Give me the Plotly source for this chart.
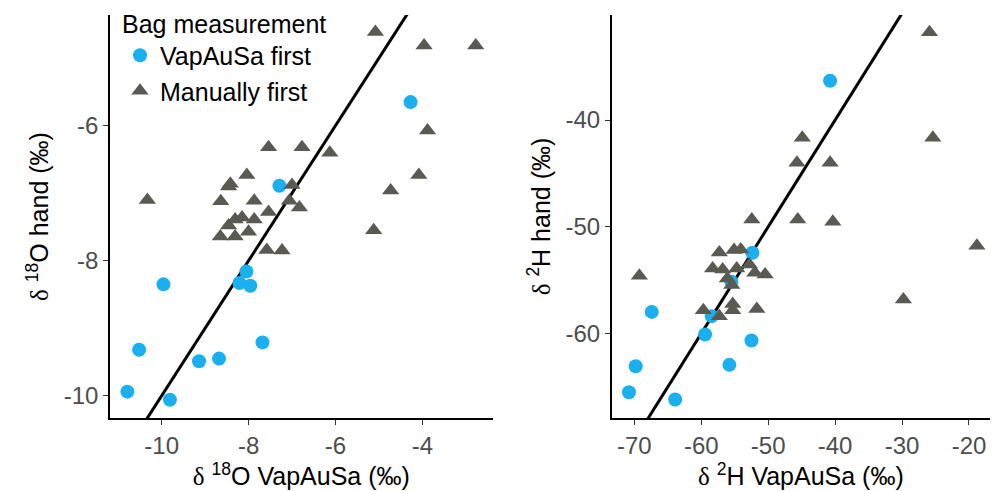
import plotly.graph_objects as go

# ---- data: delta 18O panel ----
o18_vap_x = [-4.27, -7.29, -8.05, -8.21, -7.96, -9.96, -10.52, -7.68, -9.14, -8.68, -10.79, -9.81]
o18_vap_y = [-5.65, -6.89, -8.16, -8.33, -8.37, -8.35, -9.32, -9.21, -9.49, -9.45, -9.94, -10.06]
o18_man_x = [-5.08, -3.96, -2.77, -3.88, -7.54, -6.77, -6.13, -8.04, -4.08, -8.46, -8.42, -7.00,
             -4.73, -10.33, -8.64, -7.87, -7.06, -6.83, -7.54, -8.15, -8.31, -7.87, -8.46, -8.00,
             -8.65, -8.31, -5.12, -7.58, -7.23]
o18_man_y = [-4.61, -4.81, -4.81, -6.07, -6.32, -6.32, -6.40, -6.73, -6.73, -6.90, -6.86, -6.88,
             -6.96, -7.10, -7.12, -7.11, -7.11, -7.21, -7.28, -7.36, -7.39, -7.39, -7.48, -7.57,
             -7.64, -7.64, -7.55, -7.84, -7.85]

# ---- data: delta 2H panel ----
h2_vap_x = [-40.75, -52.36, -55.5, -67.4, -58.43, -59.43, -52.5, -69.8, -55.8, -70.8, -63.9]
h2_vap_y = [-36.32, -52.43, -55.15, -57.97, -58.37, -60.09, -60.65, -63.06, -62.93, -65.5, -66.18]
h2_man_x = [-25.9, -25.4, -44.9, -45.7, -40.75, -52.45, -45.58, -40.34, -18.82, -57.3, -55.1, -54.1,
            -69.25, -58.3, -56.8, -54.7, -52.8, -52.0, -50.46, -56.1, -55.44, -29.8, -55.3, -59.69,
            -55.3, -51.7, -57.3]
h2_man_y = [-31.78, -41.66, -41.66, -44.0, -44.0, -49.31, -49.31, -49.53, -51.78, -52.40, -52.18, -52.12,
            -54.59, -53.9, -54.0, -53.9, -53.53, -54.3, -54.46, -54.84, -55.46, -56.8, -57.24, -57.81,
            -57.81, -57.7, -58.37]

# ticks and tick labels
o18_xticks = [-10, -8, -6, -4]
o18_xlabels = ["-10", "-8", "-6", "-4"]
o18_yticks = [-10, -8, -6]
o18_ylabels = ["-10", "-8", "-6"]
h2_xticks = [-70, -60, -50, -40, -30, -20]
h2_xlabels = ["-70", "-60", "-50", "-40", "-30", "-20"]
h2_yticks = [-60, -50, -40]
h2_ylabels = ["-60", "-50", "-40"]

series_names = ["VapAuSa first", "Manually first"]
legend_title = "Bag measurement"

# ranges
o18_xr = [-11.19, -2.38]
o18_yr = [-10.33, -4.36]
h2_xr = [-73.38, -16.86]
h2_yr = [-67.91, -30.16]

BLUE = "#1AB0F0"
GREY = "#5A5A52"
FONT = "Liberation Sans, Arial, sans-serif"
DELTA = "<span style='font-family:Liberation Serif'>δ</span> "

fig = go.Figure()

# 1:1 lines
lo = min(o18_xr[0], o18_yr[0]); hi = max(o18_xr[1], o18_yr[1])
fig.add_trace(go.Scatter(x=[lo, hi], y=[lo, hi], mode="lines", line=dict(color="black", width=3),
                         showlegend=False, hoverinfo="skip", xaxis="x", yaxis="y"))
lo2 = min(h2_xr[0], h2_yr[0]); hi2 = max(h2_xr[1], h2_yr[1])
fig.add_trace(go.Scatter(x=[lo2, hi2], y=[lo2, hi2], mode="lines", line=dict(color="black", width=3),
                         showlegend=False, hoverinfo="skip", xaxis="x2", yaxis="y2"))

fig.add_trace(go.Scatter(x=o18_vap_x, y=o18_vap_y, mode="markers", name=series_names[0],
                         marker=dict(symbol="circle", size=14, color=BLUE), xaxis="x", yaxis="y"))
fig.add_trace(go.Scatter(x=o18_man_x, y=o18_man_y, mode="markers", name=series_names[1],
                         marker=dict(symbol="triangle-up", size=15, color=GREY), xaxis="x", yaxis="y"))
fig.add_trace(go.Scatter(x=h2_vap_x, y=h2_vap_y, mode="markers", name=series_names[0], showlegend=False,
                         marker=dict(symbol="circle", size=14, color=BLUE), xaxis="x2", yaxis="y2"))
fig.add_trace(go.Scatter(x=h2_man_x, y=h2_man_y, mode="markers", name=series_names[1], showlegend=False,
                         marker=dict(symbol="triangle-up", size=15, color=GREY), xaxis="x2", yaxis="y2"))

W, H = 992, 491
ydom = [(H - 418) / H, (H - 15) / H]

TICKFONT = dict(size=24, color="#4D4D4D", family=FONT)
TITLEFONT = dict(size=25, color="black", family=FONT)


def axis(domain, rng, ticks, labels, title, anchor, standoff):
    return dict(domain=domain, range=rng, tickvals=ticks, ticktext=labels, anchor=anchor,
                title=dict(text=title, standoff=standoff, font=TITLEFONT),
                showline=True, linecolor="black", linewidth=1.5, ticks="outside", ticklen=5,
                tickcolor="#333333", tickwidth=1, showgrid=False, zeroline=False,
                tickfont=TICKFONT)


fig.update_layout(
    width=W, height=H,
    margin=dict(l=0, r=0, t=0, b=0),
    paper_bgcolor="white", plot_bgcolor="white",
    font=dict(family=FONT),
    xaxis=axis([110 / W, 492.7 / W], o18_xr, o18_xticks, o18_xlabels,
               DELTA + "<sup>18</sup>O VapAuSa (‰)", "y", 6),
    yaxis=axis(ydom, o18_yr, o18_yticks, o18_ylabels, DELTA + "<sup>18</sup>O hand (‰)", "x", 8),
    xaxis2=axis([611.7 / W, 990 / W], h2_xr, h2_xticks, h2_xlabels,
                DELTA + "<sup>2</sup>H VapAuSa (‰)", "y2", 6),
    yaxis2=axis(ydom, h2_yr, h2_yticks, h2_ylabels, DELTA + "<sup>2</sup>H hand (‰)", "x2", 8),
    legend=dict(x=120 / W, y=1.0, xanchor="left", yanchor="top", bgcolor="rgba(0,0,0,0)",
                title=dict(text=legend_title, font=dict(size=25, color="black", family=FONT)),
                font=dict(size=25, color="black", family=FONT), itemsizing="trace",
                tracegroupgap=0),
)

fig.write_html("out.html", config={"displayModeBar": False},
               post_script="document.body.style.margin='0';")
